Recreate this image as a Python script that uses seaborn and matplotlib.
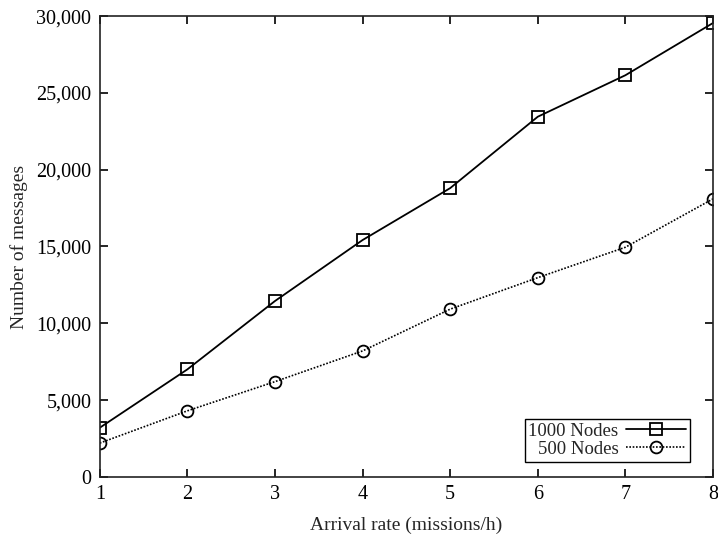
import matplotlib
matplotlib.use("Agg")
import matplotlib.pyplot as plt
import seaborn as sns
import pandas as pd

arrival_rate = [1, 2, 3, 4, 5, 6, 7, 8]
nodes_1000 = [3200, 7000, 11450, 15420, 18800, 23450, 26150, 29550]
nodes_500 = [2200, 4300, 6200, 8200, 10920, 12970, 14950, 18100]
series_names = ["1000 Nodes", "500 Nodes"]
y_ticks = [0, 5000, 10000, 15000, 20000, 25000, 30000]
y_tick_labels = ["0", "5,000", "10,000", "15,000", "20,000", "25,000", "30,000"]

sns.set_theme(style="ticks")
plt.rcParams['font.family'] = ['Liberation Serif', 'DejaVu Serif']

df = pd.DataFrame({
    "x": arrival_rate * 2,
    "y": nodes_1000 + nodes_500,
    "series": [series_names[0]] * len(arrival_rate) + [series_names[1]] * len(arrival_rate),
})

fig = plt.figure(figsize=(7.18, 5.37), dpi=100)
ax = fig.add_axes([0.139, 0.112, 0.854, 0.858])

sns.lineplot(data=df[df.series == series_names[0]], x="x", y="y", ax=ax,
             color="black", linewidth=1.3, marker="s", markersize=8.5,
             markerfacecolor="none", markeredgecolor="black", markeredgewidth=1.3,
             label=series_names[0])
sns.lineplot(data=df[df.series == series_names[1]], x="x", y="y", ax=ax,
             color="black", linewidth=1.2, linestyle=(0, (1, 1)), marker="o", markersize=8.5,
             markerfacecolor="none", markeredgecolor="black", markeredgewidth=1.3,
             label=series_names[1])

ax.set_xlim(1, 8)
ax.set_ylim(0, 30000)
ax.set_xticks(arrival_rate)
ax.set_yticks(y_ticks)
ax.set_yticklabels(y_tick_labels)
ax.tick_params(direction="in", top=True, right=True, length=6, width=1.2,
               labelsize=14.5, colors="black", pad=6)
for s in ax.spines.values():
    s.set_linewidth(1.2)
    s.set_color("#222222")
ax.set_xlabel("Arrival rate (missions/h)", fontsize=14, labelpad=9)
ax.set_ylabel("Number of messages", fontsize=14, labelpad=6)

leg = ax.legend(loc="lower right", markerfirst=False, fontsize=13.5, frameon=True,
                fancybox=False, framealpha=1, edgecolor="black", handlelength=3.2,
                borderpad=0.2, labelspacing=0.05, handletextpad=0.4,
                borderaxespad=0, bbox_to_anchor=(0.962, 0.033))
leg.get_frame().set_linewidth(1.0)

fig.savefig("out.png", dpi=100)
